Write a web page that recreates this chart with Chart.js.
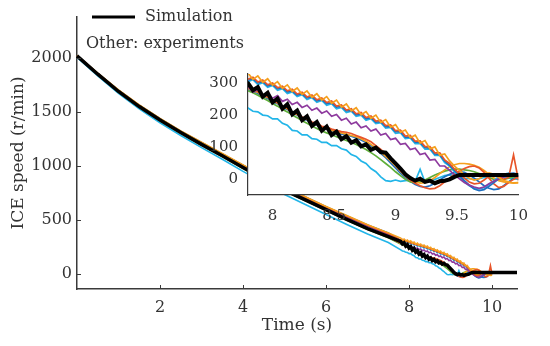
<!DOCTYPE html>
<html>
<head>
<meta charset="utf-8">
<script src="https://cdn.jsdelivr.net/npm/chart.js@4.4.1/dist/chart.umd.min.js"></script>
<style>
  html, body { margin: 0; padding: 0; background: #fff; }
  #wrap { position: relative; width: 550px; height: 346px; overflow: hidden; }
  #main { position: absolute; left: 0; top: 0; }
  #inset { position: absolute; left: 205px; top: 55px; }
</style>
</head>
<body>
<div id="wrap">
  <canvas id="main" width="550" height="346"></canvas>
  <canvas id="inset" width="335" height="175"></canvas>
</div>
<script>
// time grids (s)
const tMain = [0, 0.5, 1, 1.5, 2, 2.5, 3, 3.5, 4, 4.5, 5, 5.5, 6, 6.5, 7, 7.5];
const tFine = [7.80, 7.84, 7.88, 7.92, 7.96, 8.00, 8.04, 8.08, 8.12, 8.16,
  8.20, 8.24, 8.28, 8.32, 8.36, 8.40, 8.44, 8.48, 8.52, 8.56,
  8.60, 8.64, 8.68, 8.72, 8.76, 8.80, 8.84, 8.88, 8.92, 8.96,
  9.00, 9.04, 9.08, 9.12, 9.16, 9.20, 9.24, 9.28, 9.32, 9.36,
  9.40, 9.44, 9.48, 9.52, 9.56, 9.60, 9.64, 9.68, 9.72, 9.76,
  9.80, 9.84, 9.88, 9.92, 9.96, 10.00];
const tTail = [10.6];

// simulation (r/min)
const simMain = [2020, 1850, 1690, 1550, 1425, 1310, 1200, 1095, 985, 880, 775, 685, 595, 505, 420, 345];
const simFine = [300, 278, 288, 258, 270, 240, 252, 220, 234, 202, 214, 184, 196, 166, 178, 151, 164, 137, 148, 124,
  134, 113, 121, 102, 108, 91, 98, 84, 82, 64, 48, 32, 14, 2, -6, 0, -10, -6, -14, -8,
  -6, -2, 6, 12, 12, 12, 12, 12, 12, 12, 12, 12, 12, 12, 12, 12];
const simTail = [12];

// experiments, upper group
const orangeAMain = [2025, 1860, 1705, 1565, 1440, 1325, 1220, 1115, 1010, 905, 805, 715, 625, 540, 455, 380];
const orangeAFine = [332, 312, 323, 303, 314, 294, 305, 284, 295, 274, 285, 265, 276, 256, 267, 247, 258, 237, 247, 225,
  235, 213, 223, 201, 211, 190, 200, 177, 186, 162, 170, 146, 153, 129, 137, 112, 120, 94, 100, 74,
  78, 56, 40, 26, 12, 2, -4, 0, 10, 18, 14, 4, -6, -10, -14, -12];
const redAMain = [2020, 1855, 1700, 1560, 1435, 1320, 1215, 1110, 1005, 900, 800, 710, 620, 535, 450, 375];
const redAFine = [313, 319, 304, 310, 295, 301, 286, 291, 276, 281, 266, 272, 257, 263, 248, 254, 239, 244, 228, 232,
  216, 220, 204, 208, 192, 197, 181, 184, 167, 169, 151, 153, 134, 136, 118, 119, 101, 101, 81, 81,
  59, 48, 30, 16, 2, -10, -16, -14, -4, 8, 12, 6, -2, 4, 75, -5];
const purpleAMain = [2020, 1855, 1698, 1558, 1432, 1317, 1210, 1105, 1000, 895, 795, 703, 613, 527, 442, 365];
const purpleAFine = [290, 272, 280, 262, 270, 253, 261, 243, 250, 233, 240, 224, 231, 215, 222, 206, 213, 196, 202, 184,
  190, 172, 178, 160, 166, 150, 156, 137, 142, 123, 127, 108, 111, 92, 96, 76, 80, 59, 61, 40,
  40, 26, 12, 0, -12, -20, -26, -30, -26, -16, -8, 0, 6, 10, 12, 10];
const blueAMain = [2022, 1858, 1702, 1562, 1437, 1322, 1217, 1112, 1007, 902, 802, 712, 622, 537, 452, 378];
const blueAFine = [310, 314, 301, 305, 292, 296, 283, 286, 273, 276, 263, 267, 254, 258, 245, 249, 236, 239, 225, 227,
  213, 215, 201, 203, 189, 192, 178, 179, 164, 164, 148, 148, 131, 131, 115, 114, 98, 96, 78, 76,
  56, 42, 26, 10, -6, -20, -32, -37, -34, -24, -12, 0, 10, 16, 18, 14];
const cyanAMain = [2018, 1852, 1696, 1556, 1430, 1316, 1212, 1108, 1003, 898, 798, 708, 618, 533, 448, 372];
const cyanAFine = [305, 311, 296, 302, 287, 293, 278, 283, 268, 273, 258, 264, 249, 255, 240, 246, 231, 236, 220, 224,
  208, 212, 196, 200, 184, 189, 173, 176, 159, 161, 143, 145, 126, 128, 110, 111, 93, 93, 73, 73,
  51, 40, 22, 6, -10, -22, -30, -32, -28, -18, -6, 6, 14, 18, 14, 8];

// experiments, lower group
const greenBMain = [2015, 1845, 1685, 1545, 1418, 1302, 1192, 1087, 977, 872, 767, 677, 587, 497, 412, 335];
const greenBFine = [276, 270, 262, 254, 246, 236, 228, 218, 210, 200, 192, 182, 174, 166, 158, 150, 144, 138, 132, 126,
  120, 114, 108, 100, 92, 82, 72, 60, 48, 36, 22, 10, -2, -10, -12, -10, -4, 4, 12, 18,
  24, 28, 30, 30, 28, 26, 22, 16, 10, 4, -2, -4, -2, 2, 6, 8];
const redBMain = [2018, 1850, 1690, 1550, 1424, 1308, 1198, 1093, 983, 878, 773, 683, 593, 503, 418, 342];
const redBFine = [286, 280, 274, 262, 258, 246, 240, 228, 222, 210, 204, 194, 188, 178, 174, 165, 162, 156, 152, 148,
  146, 142, 136, 130, 124, 116, 104, 92, 78, 62, 44, 26, 10, -4, -14, -22, -28, -32, -30, -22,
  -10, 2, 14, 24, 32, 38, 40, 34, 20, 2, -16, -28, -24, -12, -2, 6];
const orangeBMain = [2020, 1852, 1692, 1552, 1426, 1311, 1201, 1096, 986, 881, 776, 686, 596, 506, 421, 344];
const orangeBFine = [284, 276, 272, 260, 256, 244, 238, 226, 220, 208, 202, 192, 186, 176, 170, 162, 158, 152, 148, 144,
  140, 136, 132, 126, 118, 108, 96, 84, 70, 56, 40, 24, 8, -4, -10, -14, -12, -6, 4, 16,
  28, 38, 44, 48, 48, 46, 42, 36, 26, 14, 2, -6, -10, -12, -13, -12];
const blueBMain = [2017, 1848, 1688, 1548, 1422, 1306, 1196, 1091, 981, 876, 771, 681, 591, 501, 416, 340];
const blueBFine = [280, 274, 268, 258, 252, 242, 236, 224, 218, 206, 200, 190, 184, 174, 168, 160, 156, 150, 146, 140,
  138, 134, 128, 122, 114, 104, 94, 80, 66, 50, 34, 18, 4, -8, -18, -24, -26, -22, -14, -4,
  6, 14, 20, 22, 20, 12, 2, -10, -22, -30, -34, -32, -22, -10, 2, 10];

// experiment, lowest line
const cyanCMain = [2005, 1835, 1672, 1528, 1400, 1282, 1170, 1062, 950, 843, 736, 643, 550, 458, 370, 290];
const cyanCFine = [222, 212, 210, 200, 198, 188, 188, 174, 168, 152, 150, 138, 138, 126, 124, 114, 114, 104, 104, 94,
  90, 76, 70, 56, 48, 32, 22, 6, -6, -8, -4, -8, -6, -4, -8, 30, -10, -6, -2, 4,
  10, 12, 10, 6, 2, 0, -2, 0, 4, 6, 8, 6, 4, 2, 0, -2];

// ticks
const mainXTicks = [2, 4, 6, 8, 10];
const mainYTicks = [0, 500, 1000, 1500, 2000];
const insetXTicks = [8, 8.5, 9, 9.5, 10];
const insetYTicks = [0, 100, 200, 300];

const FONT = '"DejaVu Serif", "Liberation Serif", serif';
const TEXT = '#333';
const AXIS = '#3a3a3a';

function pts(ts, vs) {
  return ts.map(function (t, i) { return { x: t, y: vs[i] }; });
}

// Chart.js paints dataset 0 last, so the first entries end up on top
var experiments = [
  { color: '#f5a01e', main: orangeAMain, fine: orangeAFine },
  { color: '#e8552a', main: redAMain, fine: redAFine },
  { color: '#8e3a9e', main: purpleAMain, fine: purpleAFine },
  { color: '#1f6fc0', main: blueAMain, fine: blueAFine },
  { color: '#22b5e8', main: cyanAMain, fine: cyanAFine },
  { color: '#e8552a', main: redBMain, fine: redBFine },
  { color: '#f5a01e', main: orangeBMain, fine: orangeBFine },
  { color: '#5fae3a', main: greenBMain, fine: greenBFine },
  { color: '#1f6fc0', main: blueBMain, fine: blueBFine },
  { color: '#22b5e8', main: cyanCMain, fine: cyanCFine }
];

function buildDatasets(expWidth, simWidth, clip) {
  var ds = [{
    data: pts(tMain, simMain).concat(pts(tFine, simFine), pts(tTail, simTail)),
    borderColor: '#000',
    borderWidth: simWidth,
    pointRadius: 0,
    tension: 0,
    clip: clip
  }];
  experiments.forEach(function (e) {
    ds.push({
      data: pts(tMain, e.main).concat(pts(tFine, e.fine)),
      borderColor: e.color,
      borderWidth: expWidth,
      pointRadius: 0,
      tension: 0,
      clip: clip
    });
  });
  return ds;
}

function plainLabel(v) { return String(v); }

// inward tick marks + legend text for the main axes
var mainDecor = {
  id: 'mainDecor',
  afterDraw: function (chart) {
    var ctx = chart.ctx;
    var xs = chart.scales.x, ys = chart.scales.y, area = chart.chartArea;
    ctx.save();
    ctx.strokeStyle = AXIS;
    ctx.lineWidth = 1;
    ctx.beginPath();
    mainXTicks.forEach(function (v) {
      var p = Math.round(xs.getPixelForValue(v)) + 0.5;
      ctx.moveTo(p, area.bottom); ctx.lineTo(p, area.bottom - 4);
    });
    mainYTicks.forEach(function (v) {
      var p = Math.round(ys.getPixelForValue(v)) + 0.5;
      ctx.moveTo(area.left, p); ctx.lineTo(area.left + 4, p);
    });
    ctx.stroke();

    // legend
    ctx.strokeStyle = '#000';
    ctx.lineWidth = 3;
    ctx.beginPath();
    ctx.moveTo(92, 17); ctx.lineTo(135, 17);
    ctx.stroke();
    ctx.fillStyle = TEXT;
    ctx.font = '16px ' + FONT;
    ctx.textBaseline = 'middle';
    ctx.textAlign = 'left';
    ctx.fillText('Simulation', 145, 17);
    ctx.fillText('Other: experiments', 86, 44);
    ctx.restore();
  }
};

var insetBg = {
  id: 'insetBg',
  beforeDraw: function (chart) {
    var a = chart.chartArea, ctx = chart.ctx;
    ctx.save();
    ctx.fillStyle = '#fff';
    ctx.fillRect(a.left, a.top, a.right - a.left, a.bottom - a.top);
    ctx.restore();
  }
};

new Chart(document.getElementById('main'), {
  type: 'line',
  data: { datasets: buildDatasets(1.6, 3.5, false) },
  options: {
    responsive: false,
    animation: false,
    devicePixelRatio: 1,
    layout: { padding: { left: 0, top: 17, right: 33, bottom: 0 } },
    plugins: { legend: { display: false }, tooltip: { enabled: false } },
    scales: {
      x: {
        type: 'linear', min: 0, max: 10.6,
        afterFit: function (s) { s.height = 57; },
        afterBuildTicks: function (s) { s.ticks = mainXTicks.map(function (v) { return { value: v }; }); },
        grid: { display: true, drawOnChartArea: false, drawTicks: false },
        border: { display: true, color: AXIS, width: 1.5 },
        ticks: { color: TEXT, font: { family: FONT, size: 16 }, padding: 9, maxRotation: 0, callback: plainLabel },
        title: { display: true, text: 'Time (s)', color: TEXT, font: { family: FONT, size: 17 }, padding: { top: 0, bottom: 10 } }
      },
      y: {
        type: 'linear', min: -140, max: 2380,
        afterFit: function (s) { s.width = 77; },
        afterBuildTicks: function (s) { s.ticks = mainYTicks.map(function (v) { return { value: v }; }); },
        grid: { display: true, drawOnChartArea: false, drawTicks: false },
        border: { display: true, color: AXIS, width: 1.5 },
        ticks: { color: TEXT, font: { family: FONT, size: 16 }, padding: 5, callback: plainLabel },
        title: { display: true, text: 'ICE speed (r/min)', color: TEXT, font: { family: FONT, size: 17 }, padding: { top: 8, bottom: 0 } }
      }
    }
  },
  plugins: [mainDecor]
});

new Chart(document.getElementById('inset'), {
  type: 'line',
  data: { datasets: buildDatasets(1.7, 4, 0) },
  options: {
    responsive: false,
    animation: false,
    devicePixelRatio: 1,
    layout: { padding: { left: 0, top: 7, right: 8, bottom: 0 } },
    plugins: { legend: { display: false }, tooltip: { enabled: false } },
    scales: {
      x: {
        type: 'linear', min: 7.8, max: 10,
        afterFit: function (s) { s.height = 35; },
        afterBuildTicks: function (s) { s.ticks = insetXTicks.map(function (v) { return { value: v }; }); },
        grid: { display: true, drawOnChartArea: false, drawTicks: false },
        border: { display: true, color: AXIS, width: 1.2 },
        ticks: { color: TEXT, font: { family: FONT, size: 15 }, padding: 12, maxRotation: 0, callback: plainLabel }
      },
      y: {
        type: 'linear', min: -51, max: 329,
        afterFit: function (s) { s.width = 43; },
        afterBuildTicks: function (s) { s.ticks = insetYTicks.map(function (v) { return { value: v }; }); },
        grid: { display: true, drawOnChartArea: false, drawTicks: false },
        border: { display: true, color: AXIS, width: 1.2 },
        ticks: { color: TEXT, font: { family: FONT, size: 15 }, padding: 10, callback: plainLabel }
      }
    }
  },
  plugins: [insetBg]
});
</script>
</body>
</html>
